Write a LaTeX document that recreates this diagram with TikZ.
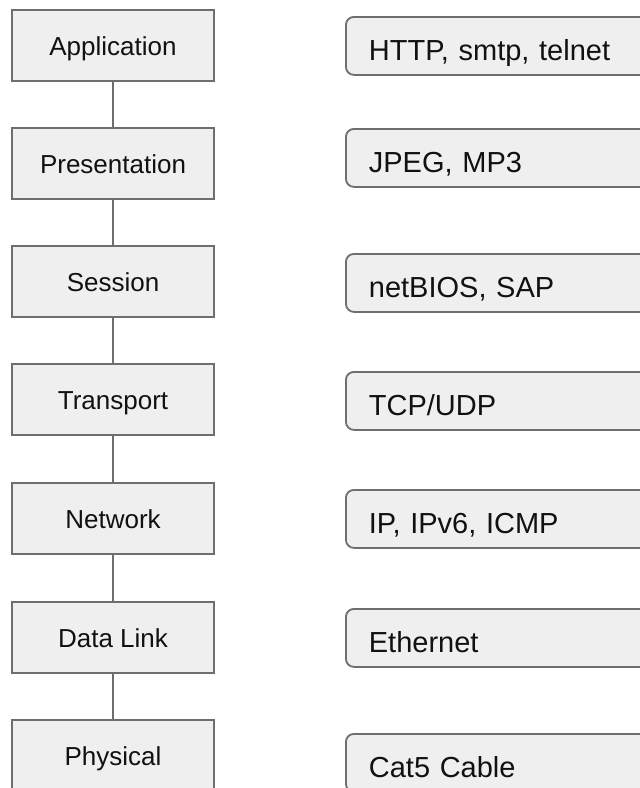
\documentclass[tikz,border=0pt]{standalone}
\usepackage{fontspec}
\setmainfont{Liberation Sans}
\definecolor{boxfill}{HTML}{EFEFEF}
\definecolor{boxline}{HTML}{6E6E6E}
\definecolor{txt}{HTML}{111111}
\begin{document}
\begin{tikzpicture}[x=1pt,y=-1pt,
  layerbox/.style={draw=boxline, fill=boxfill, line width=1.8pt, minimum width=202pt,
    minimum height=71pt, inner sep=0pt, text=txt, text height=20pt, text depth=0pt,
    font=\fontsize{26}{30}\selectfont},
  protobox/.style={draw=boxline, fill=boxfill, line width=1.8pt, rounded corners=8pt,
    anchor=north west, minimum width=330pt, minimum height=58pt, inner ysep=0pt,
    inner xsep=23pt, text width=284pt, align=left, text=txt, text height=30pt, text depth=1pt,
    font=\fontsize{29}{34}\selectfont},
  conn/.style={draw=boxline, line width=1.8pt}]
\useasboundingbox (0,0) rectangle (640,788);
\clip (0,0) rectangle (640,788);
\node[layerbox] (app)  at (113,45.5)  {Application};
\node[layerbox] (pres) at (113,163.5) {Presentation};
\node[layerbox] (sess) at (113,281.5) {Session};
\node[layerbox] (tran) at (113,399.5) {Transport};
\node[layerbox] (netw) at (113,518.5) {Network};
\node[layerbox] (dlnk) at (113,637.5) {Data Link};
\node[layerbox] (phys) at (113,755.5) {Physical};
\draw[conn] (app.south) -- (pres.north);
\draw[conn] (pres.south) -- (sess.north);
\draw[conn] (sess.south) -- (tran.north);
\draw[conn] (tran.south) -- (netw.north);
\draw[conn] (netw.south) -- (dlnk.north);
\draw[conn] (dlnk.south) -- (phys.north);
\node[protobox] (papp)  at (345,16)  {HTTP, smtp, telnet};
\node[protobox] (ppres) at (345,128) {JPEG, MP3};
\node[protobox] (psess) at (345,253) {netBIOS, SAP};
\node[protobox] (ptran) at (345,371) {TCP/UDP};
\node[protobox] (pnetw) at (345,489) {IP, IPv6, ICMP};
\node[protobox] (pdlnk) at (345,608) {Ethernet};
\node[protobox] (pphys) at (345,733) {Cat5 Cable};
\end{tikzpicture}
\end{document}
